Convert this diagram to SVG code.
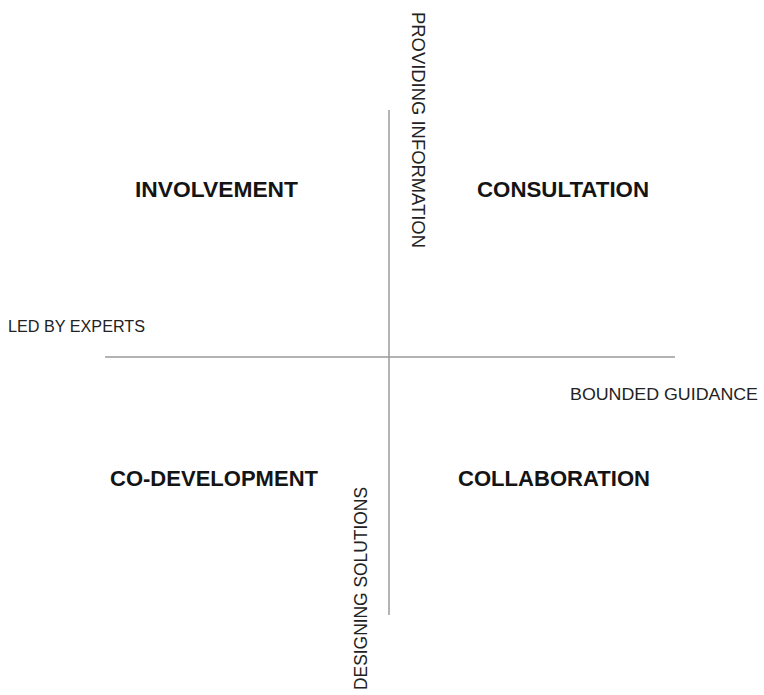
<svg xmlns="http://www.w3.org/2000/svg" width="764" height="695" viewBox="0 0 764 695">
<style>
.q{font-family:"Liberation Sans",Arial,sans-serif;font-weight:bold;font-size:22px;fill:#141414}
.a{font-family:"Liberation Sans",Arial,sans-serif;font-size:16px;fill:#222}
.v{font-family:"Liberation Sans",Arial,sans-serif;font-size:18px;fill:#222}
.ax{stroke:#9a9a9a;stroke-width:1.5;fill:none}
</style>
<rect width="764" height="695" fill="#fff"/>
<g id="connectors">
<line class="ax" x1="389" y1="110" x2="389" y2="615"/>
<line class="ax" x1="105" y1="357" x2="675" y2="357"/>
</g>
<g id="involvement"><text class="q" x="135" y="197" textLength="163" lengthAdjust="spacingAndGlyphs">INVOLVEMENT</text></g>
<g id="consultation"><text class="q" x="477" y="197" textLength="172" lengthAdjust="spacingAndGlyphs">CONSULTATION</text></g>
<g id="co-development"><text class="q" x="110" y="486" textLength="208" lengthAdjust="spacingAndGlyphs">CO-DEVELOPMENT</text></g>
<g id="collaboration"><text class="q" x="458" y="486" textLength="192" lengthAdjust="spacingAndGlyphs">COLLABORATION</text></g>
<g id="led-by-experts"><text class="a" x="8" y="332" textLength="137" lengthAdjust="spacingAndGlyphs">LED BY EXPERTS</text></g>
<g id="bounded-guidance"><text class="a" x="570" y="400" textLength="188" lengthAdjust="spacingAndGlyphs">BOUNDED GUIDANCE</text></g>
<g id="providing-information"><text class="v" transform="translate(412,12) rotate(90)" textLength="236" lengthAdjust="spacingAndGlyphs">PROVIDING INFORMATION</text></g>
<g id="designing-solutions"><text class="v" transform="translate(367,690) rotate(-90)" textLength="203" lengthAdjust="spacingAndGlyphs">DESIGNING SOLUTIONS</text></g>
</svg>
